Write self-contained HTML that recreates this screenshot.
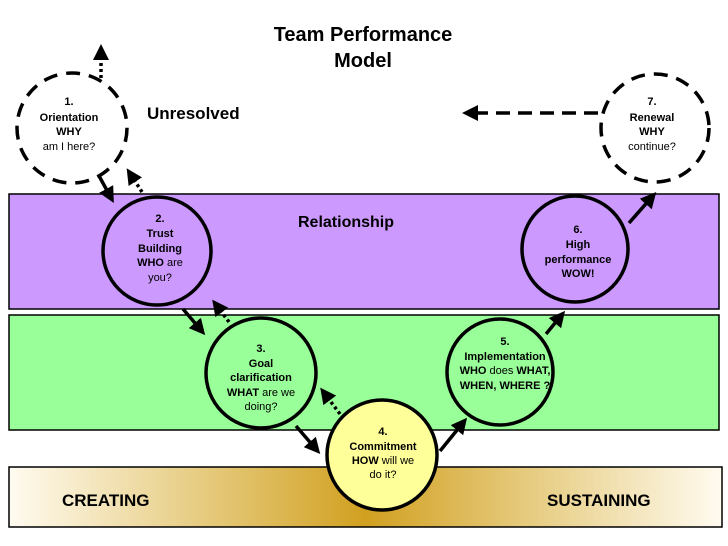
<!DOCTYPE html>
<html><head><meta charset="utf-8"><style>
body{margin:0;background:#fff;}
svg{display:block;font-family:"Liberation Sans",Arial,sans-serif;}
</style></head><body>
<svg width="728" height="546" viewBox="0 0 728 546" xmlns="http://www.w3.org/2000/svg">
<defs>
<linearGradient id="gold" x1="0" x2="1" y1="0" y2="0">
<stop offset="0" stop-color="#fffbf0"/>
<stop offset="0.25" stop-color="#e8cf88"/>
<stop offset="0.5" stop-color="#d1a020"/>
<stop offset="0.75" stop-color="#e8cf88"/>
<stop offset="1" stop-color="#fffbf0"/>
</linearGradient>
<marker id="ahb" markerWidth="16" markerHeight="16" refX="8" refY="8" orient="auto" markerUnits="userSpaceOnUse" viewBox="0 0 16 16">
<path d="M0,0 L16,8 L0,16 z" fill="#000"/>
</marker>
</defs>
<text x="363" y="41" font-size="20" font-weight="bold" text-anchor="middle">Team Performance</text>
<text x="363" y="67" font-size="20" font-weight="bold" text-anchor="middle">Model</text>
<text x="147" y="119" font-size="17" font-weight="bold">Unresolved</text>

<rect x="9" y="194" width="710" height="115" fill="#cc99ff" stroke="#000" stroke-width="1.5"/>
<rect x="9" y="315" width="710" height="115" fill="#99ff99" stroke="#000" stroke-width="1.5"/>
<rect x="9" y="467" width="713" height="60" fill="url(#gold)" stroke="#000" stroke-width="1.5"/>
<text x="298" y="227" font-size="16" font-weight="bold">Relationship</text>
<text x="62" y="506" font-size="17" font-weight="bold">CREATING</text>
<text x="547" y="506" font-size="17" font-weight="bold">SUSTAINING</text>

<g stroke="#000" stroke-width="3.5" fill="none">
<line x1="98" y1="174" x2="110" y2="196" marker-end="url(#ahb)"/>
<line x1="183" y1="309" x2="200" y2="329" marker-end="url(#ahb)"/>
<line x1="296" y1="426" x2="315" y2="448" marker-end="url(#ahb)"/>
<line x1="440" y1="451" x2="462" y2="424" marker-end="url(#ahb)"/>
<line x1="546" y1="334" x2="560" y2="317" marker-end="url(#ahb)"/>
<line x1="629" y1="223" x2="651" y2="198" marker-end="url(#ahb)"/>
</g>
<g stroke="#000" stroke-width="3.5" fill="none" stroke-dasharray="3,3">
<line x1="101" y1="78" x2="101" y2="52" marker-end="url(#ahb)"/>
<line x1="142" y1="192" x2="131" y2="175" marker-end="url(#ahb)"/>
<line x1="229" y1="322" x2="217" y2="306" marker-end="url(#ahb)"/>
<line x1="340" y1="414" x2="325" y2="394" marker-end="url(#ahb)"/>
</g>
<line x1="598" y1="113" x2="470" y2="113" stroke="#000" stroke-width="3.5" stroke-dasharray="14,8" marker-end="url(#ahb)"/>

<g stroke="#000" stroke-width="3.5">
<circle cx="72" cy="128" r="55" fill="#fff" stroke-dasharray="14,9"/>
<circle cx="655" cy="128" r="54" fill="#fff" stroke-dasharray="14,9"/>
<circle cx="157" cy="251" r="54" fill="#cc99ff"/>
<circle cx="575" cy="249" r="53" fill="#cc99ff"/>
<circle cx="261" cy="373" r="55" fill="#99ff99"/>
<circle cx="500" cy="372" r="53" fill="#99ff99"/>
<circle cx="382" cy="455" r="55" fill="#ffff99"/>
</g>

<g font-size="11" text-anchor="middle" fill="#000">
<text x="69" y="105" font-weight="bold">1.</text>
<text x="69" y="121" font-weight="bold">Orientation</text>
<text x="69" y="135" font-weight="bold">WHY</text>
<text x="69" y="150">am I here?</text>

<text x="160" y="222" font-weight="bold">2.</text>
<text x="160" y="237" font-weight="bold">Trust</text>
<text x="160" y="252" font-weight="bold">Building</text>
<text x="160" y="266"><tspan font-weight="bold">WHO</tspan> are</text>
<text x="160" y="281">you?</text>

<text x="261" y="352" font-weight="bold">3.</text>
<text x="261" y="367" font-weight="bold">Goal</text>
<text x="261" y="381" font-weight="bold">clarification</text>
<text x="261" y="396"><tspan font-weight="bold">WHAT</tspan> are we</text>
<text x="261" y="410">doing?</text>

<text x="383" y="435" font-weight="bold">4.</text>
<text x="383" y="450" font-weight="bold">Commitment</text>
<text x="383" y="464"><tspan font-weight="bold">HOW</tspan> will we</text>
<text x="383" y="478">do it?</text>

<text x="505" y="345" font-weight="bold">5.</text>
<text x="505" y="360" font-weight="bold">Implementation</text>
<text x="505" y="374"><tspan font-weight="bold">WHO</tspan> does <tspan font-weight="bold">WHAT,</tspan></text>
<text x="505" y="389" font-weight="bold">WHEN, WHERE ?</text>

<text x="578" y="233" font-weight="bold">6.</text>
<text x="578" y="248" font-weight="bold">High</text>
<text x="578" y="263" font-weight="bold">performance</text>
<text x="578" y="277" font-weight="bold">WOW!</text>

<text x="652" y="105" font-weight="bold">7.</text>
<text x="652" y="121" font-weight="bold">Renewal</text>
<text x="652" y="135" font-weight="bold">WHY</text>
<text x="652" y="150">continue?</text>
</g>
</svg>
</body></html>
